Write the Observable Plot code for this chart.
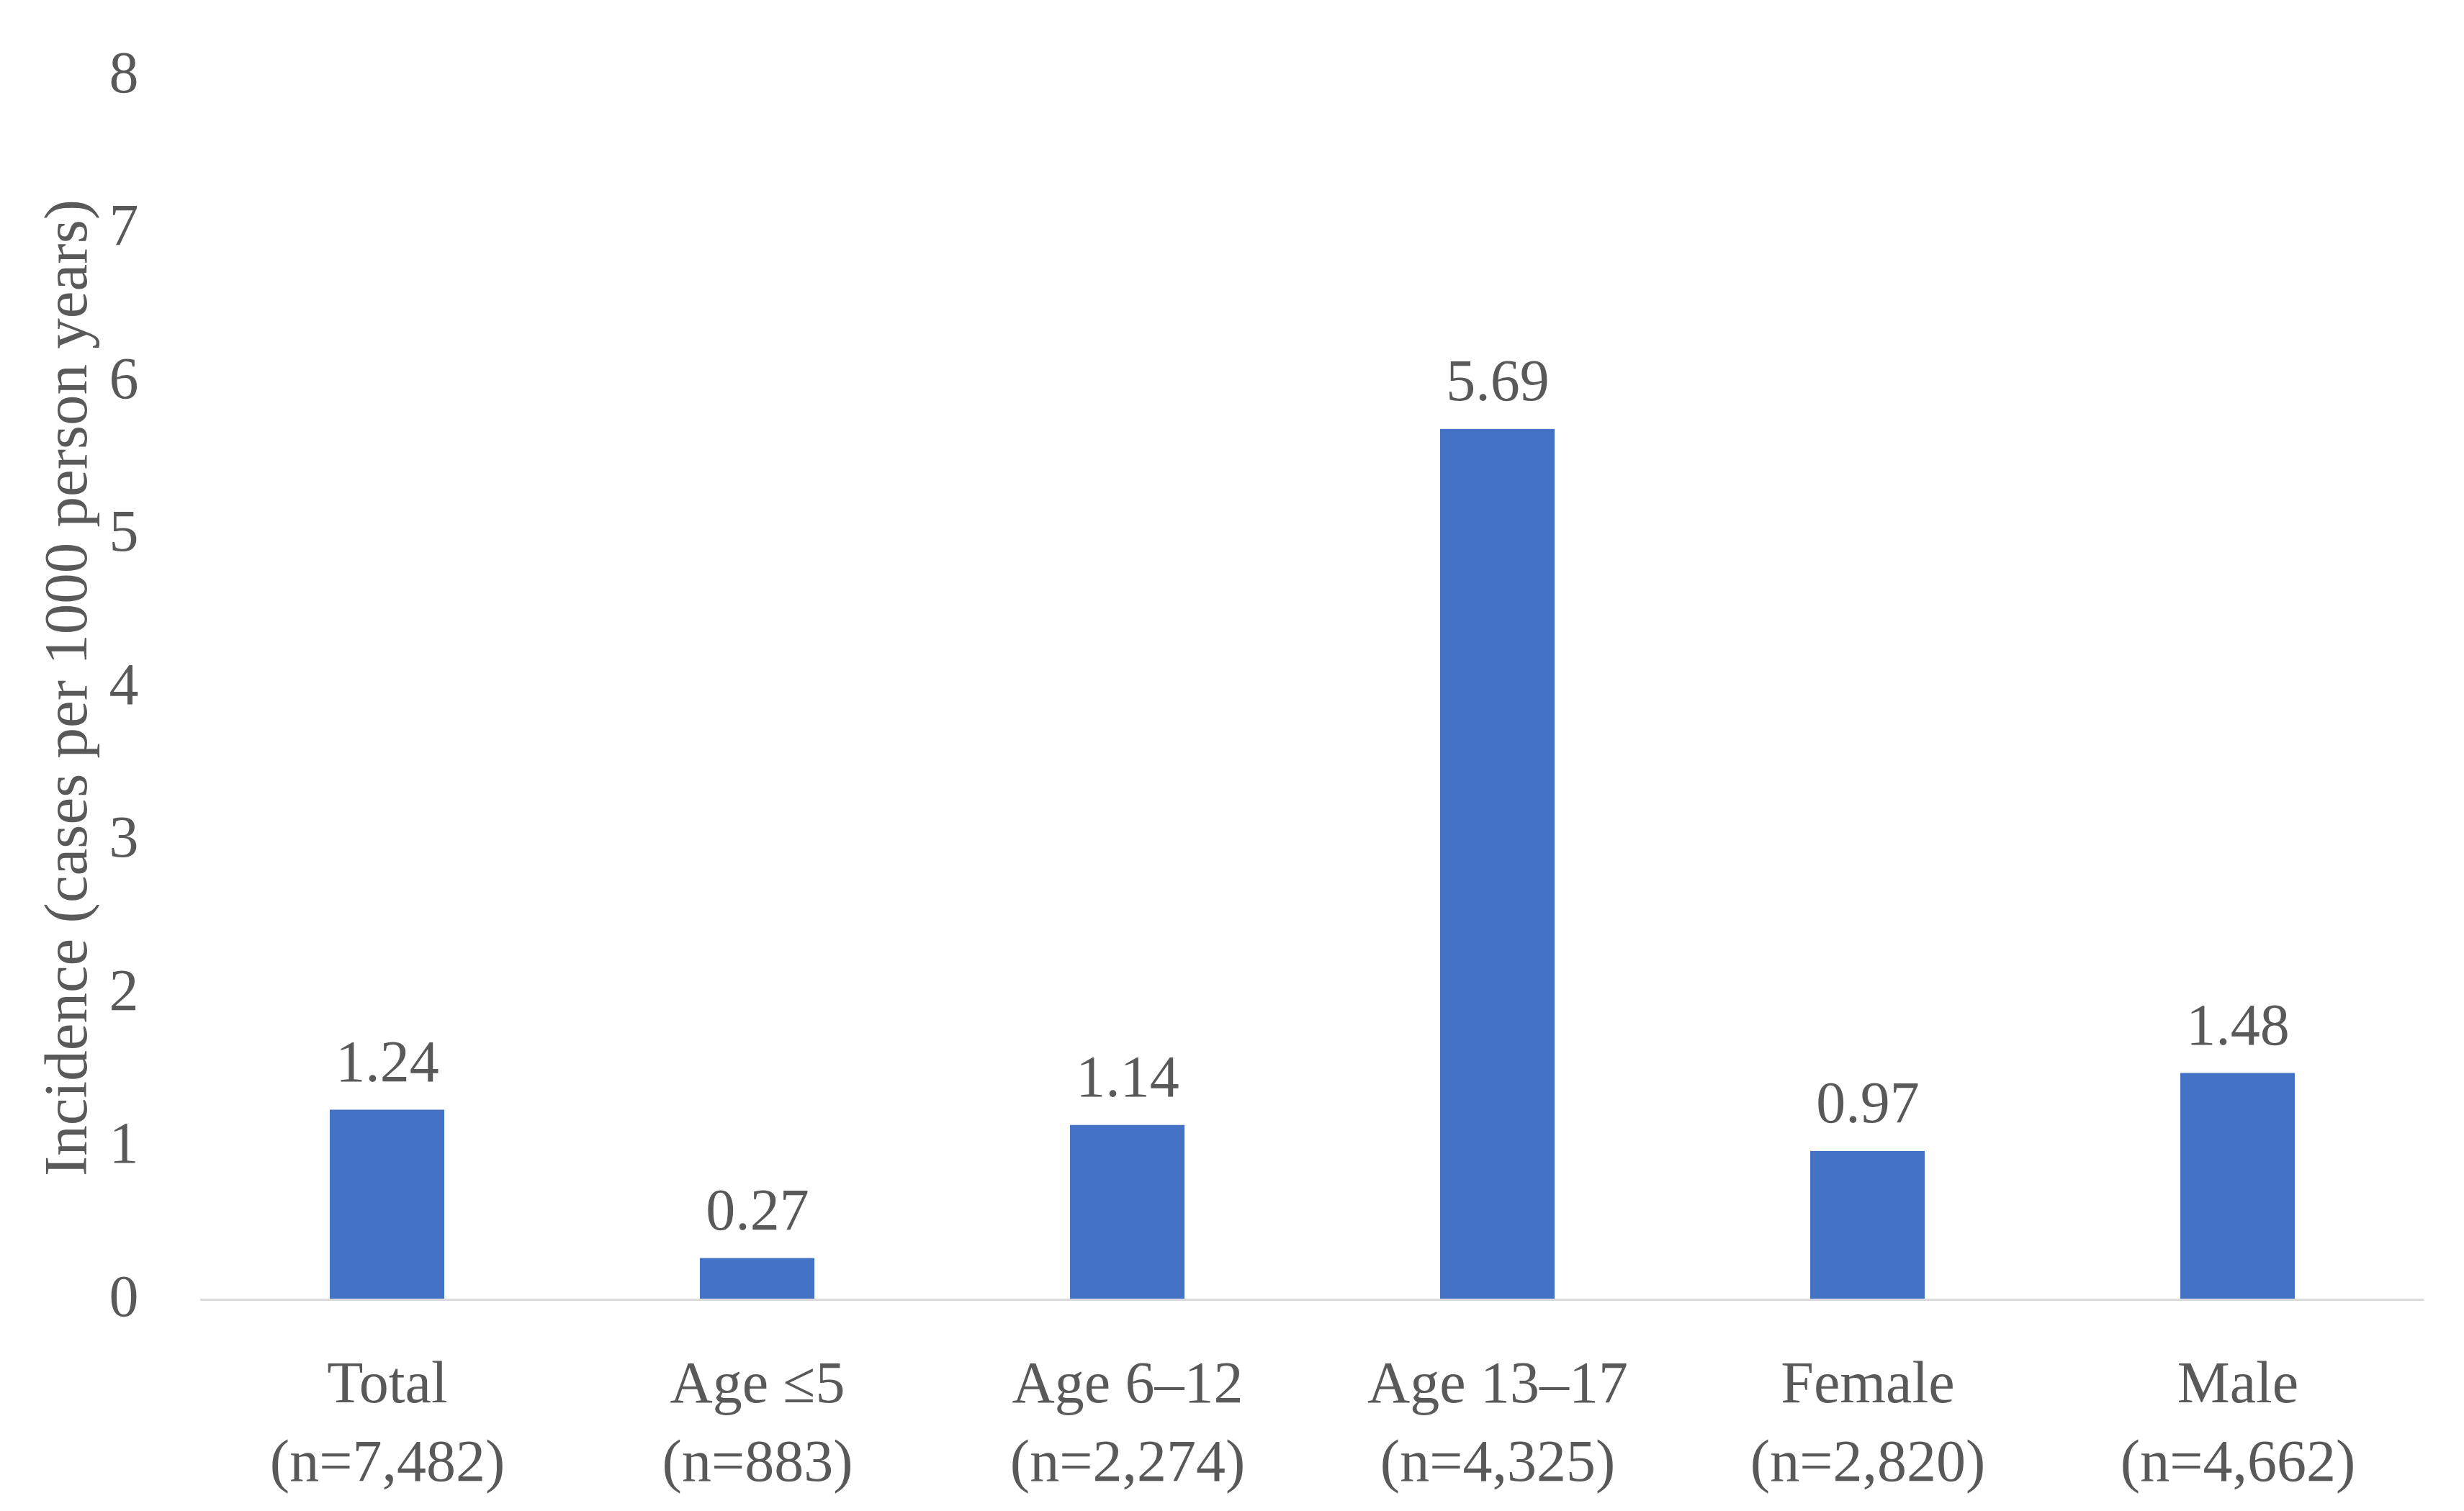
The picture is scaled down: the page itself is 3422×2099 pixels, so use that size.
<!DOCTYPE html>
<html>
<head>
<meta charset="utf-8">
<script src="https://cdn.jsdelivr.net/npm/d3@7"></script>
<script src="https://cdn.jsdelivr.net/npm/@observablehq/plot@0.6"></script>
<style>
  html, body { margin: 0; padding: 0; background: #ffffff; }
</style>
</head>
<body>
<div id="chart"></div>
<script>
const categories = ["Total", "Age ≤5", "Age 6–12", "Age 13–17", "Female", "Male"];
const sampleSizes = ["(n=7,482)", "(n=883)", "(n=2,274)", "(n=4,325)", "(n=2,820)", "(n=4,662)"];
const incidence = [1.24, 0.27, 1.14, 5.69, 0.97, 1.48];
const yTicks = [0, 1, 2, 3, 4, 5, 6, 7, 8];
const yLabel = "Incidence (cases per 1000 person years)";

const data = categories.map((c, i) => ({category: c, n: sampleSizes[i], value: incidence[i]}));
const nByCat = new Map(data.map(d => [d.category, d.n]));

const textColor = "#595959";
const fontFamily = "'Liberation Serif', 'DejaVu Serif', serif";

const chart = Plot.plot({
  width: 3422,
  height: 2099,
  marginLeft: 278,
  marginRight: 56,
  marginTop: 105,
  marginBottom: 294,
  style: {fontFamily, fontSize: "82px", color: textColor, background: "#ffffff"},
  x: {domain: categories, paddingInner: 0.691, paddingOuter: 0.3455, align: 0.5},
  y: {domain: [0, 8]},
  marks: [
    Plot.barY(data, {x: "category", y: "value", fill: "#4472C4"}),
    Plot.ruleY([0], {stroke: "#D9D9D9", strokeWidth: 3}),
    Plot.axisY({ticks: yTicks, tickSize: 0, tickPadding: 86, label: null, fontSize: 82, fill: textColor, dy: -4}),
    Plot.axisX({tickSize: 0, tickPadding: 64, label: null, fontSize: 82, fill: textColor, lineHeight: 1.34,
      tickFormat: c => c + "\n" + nByCat.get(c)}),
    Plot.text(data, {x: "category", y: "value", text: d => d.value.toFixed(2), lineAnchor: "bottom", dy: -40,
      fontSize: 82, fill: textColor}),
    Plot.text([yLabel], {frameAnchor: "left", rotate: -90, dx: -186, fontSize: 85, fill: textColor, textAnchor: "middle"})
  ]
});
document.getElementById("chart").appendChild(chart);
</script>
</body>
</html>
